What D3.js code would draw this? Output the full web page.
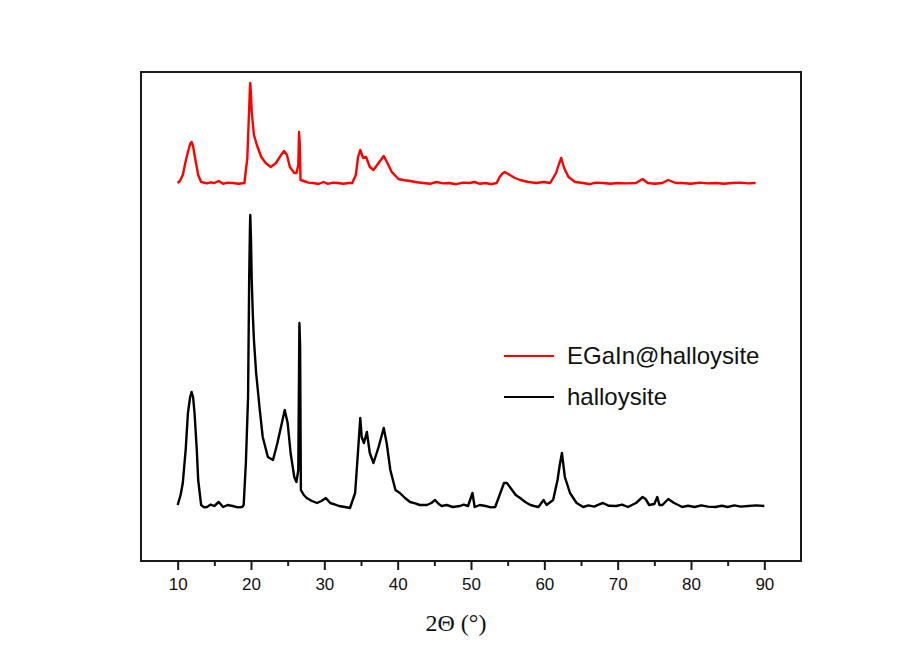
<!DOCTYPE html>
<html>
<head>
<meta charset="utf-8">
<script src="https://cdn.jsdelivr.net/npm/d3@7"></script>
<style>
  html, body { margin: 0; padding: 0; background: #ffffff; }
  svg { display: block; }
</style>
</head>
<body>
<svg id="chart" width="918" height="651"></svg>
<script>
// XRD patterns, intensity in arbitrary units
const twoThetaHalloysite = [
  10.0, 10.4, 10.7, 11.1, 11.4, 11.7, 11.9, 12.1, 12.3, 12.6, 12.8, 13.2, 13.6, 14.0, 14.5, 15.0, 15.6, 16.2, 16.8, 17.5, 18.2, 18.8, 19.0,
  19.3, 19.6, 19.75, 19.85, 19.9, 20.0, 20.1, 20.25, 20.4, 20.7, 21.2, 21.6, 22.3, 23.0, 23.6, 24.3, 24.6, 25.0, 25.4, 25.9, 26.2, 26.45,
  26.6, 26.7, 26.8, 27.2, 27.6, 28.3, 29.0, 29.6, 30.2, 30.8, 31.5, 32.0, 32.8, 33.5, 34.2, 34.7, 34.9, 35.1, 35.4, 35.8, 36.2, 36.7,
  37.4, 38.1, 38.5, 39.0, 39.7, 40.3, 41.0, 41.7, 42.4, 43.0, 44.0, 44.6, 45.1, 45.6, 46.0, 46.7, 47.5, 48.5, 49.0, 49.6, 50.2, 50.5,
  51.2, 52.0, 52.7, 53.3, 54.0, 54.5, 54.9, 55.6, 56.1, 56.7, 57.4, 58.1, 58.6, 59.2, 59.9, 60.3, 61.2, 61.8, 62.1, 62.4, 62.8, 63.5,
  64.4, 65.3, 66.0, 66.8, 67.4, 68.0, 68.8, 69.8, 70.6, 71.4, 72.5, 73.4, 73.8, 74.3, 75.0, 75.4, 75.7, 76.1, 76.9, 77.7, 78.8, 79.6,
  80.5, 81.4, 82.3, 83.3, 84.2, 85.0, 85.9, 86.8, 87.8, 88.9, 90.0
];
const intensityHalloysite = [
  280, 330, 390, 560, 740, 820, 845, 820, 740, 560, 405, 280, 268, 270, 282, 275, 295, 270, 280, 275, 268, 270, 280,
  490, 820, 1405, 1650, 1730, 1605, 1405, 1230, 1105, 940, 755, 620, 520, 505, 590, 705, 755, 690, 540, 420, 395, 455,
  1190, 1070, 355, 330, 315, 300, 290, 300, 315, 290, 282, 275, 270, 265, 340, 605, 715, 620, 590, 645, 540, 490,
  570, 665, 590, 455, 355, 340, 315, 295, 288, 280, 280, 290, 305, 285, 275, 280, 270, 275, 282, 275, 340, 270,
  280, 275, 268, 270, 340, 390, 390, 355, 330, 315, 295, 280, 275, 270, 305, 280, 305, 405, 480, 540, 420, 340,
  290, 270, 278, 272, 282, 290, 276, 275, 282, 270, 290, 320, 310, 280, 285, 320, 280, 280, 310, 290, 270, 276,
  270, 278, 272, 270, 276, 270, 278, 272, 275, 278, 275
];

const twoThetaEGaIn = [
  10.0, 10.3, 10.7, 11.1, 11.4, 11.7, 11.9, 12.1, 12.3, 12.6, 12.8, 13.2, 14.0, 14.5, 15.0, 15.6, 16.2, 16.8, 17.5, 18.3, 19.1,
  19.5, 19.7, 19.85, 19.9, 20.0, 20.1, 20.4, 20.8, 21.4, 22.0, 22.7, 23.4, 24.1, 24.5, 24.9, 25.3, 25.9, 26.2, 26.45, 26.55,
  26.65, 26.75, 27.2, 27.8, 28.5, 29.2, 29.9, 30.5, 31.2, 31.8, 32.6, 33.3, 33.8, 34.3, 34.6, 34.9, 35.3, 35.7, 36.2, 36.7,
  37.4, 38.1, 38.6, 39.2, 40.1, 40.9, 41.7, 42.6, 43.5, 44.4, 45.3, 46.2, 47.0, 48.0, 48.9, 49.8, 50.5, 51.2, 52.0, 52.8, 53.5,
  53.9, 54.3, 54.6, 55.3, 56.0, 56.7, 57.8, 58.9, 59.9, 60.8, 61.6, 62.0, 62.3, 62.7, 63.3, 64.2, 65.3, 66.2, 67.0, 68.0,
  69.0, 70.0, 71.2, 72.5, 73.4, 74.1, 75.1, 76.1, 76.9, 77.9, 78.8, 80.0, 81.2, 82.3, 83.4, 84.5, 85.6, 86.7, 87.8, 88.8
];
const intensityEGaIn = [
  290, 300, 330, 400, 445, 485, 495, 475, 430, 370, 330, 295, 288, 293, 290, 300, 286, 292, 290, 286, 290,
  415, 615, 760, 790, 730, 645, 530, 480, 420, 390, 370, 390, 430, 450, 430, 370, 340, 340, 380, 545,
  490, 305, 300, 292, 290, 285, 295, 286, 292, 290, 286, 290, 290, 330, 420, 455, 415, 420, 370, 355,
  390, 425, 390, 345, 310, 304, 300, 294, 290, 286, 295, 288, 290, 284, 292, 290, 295, 286, 290, 284, 290,
  320, 338, 345, 330, 315, 305, 295, 290, 295, 290, 340, 385, 415, 365, 320, 295, 290, 284, 292, 290,
  286, 290, 288, 290, 310, 290, 286, 290, 305, 290, 290, 286, 292, 288, 290, 286, 290, 292, 288, 290
];

// Vertical shift applied to the upper pattern so the two traces are stacked
const stackOffset = 1600;

const xTicks = [10, 20, 30, 40, 50, 60, 70, 80, 90];
const xMinorTicks = [15, 25, 35, 45, 55, 65, 75, 85];

const seriesNames = ["EGaIn@halloysite", "halloysite"];
const seriesColors = ["#ff0000", "#000000"];

const svg = d3.select("#chart");

const plot = { left: 141, right: 801, top: 72, bottom: 561 };

const x = d3.scaleLinear().domain([5, 95]).range([plot.left, plot.right]);
const y = d3.scaleLinear().domain([0, 2445]).range([plot.bottom, plot.top]);

// Traces
const line = d3.line()
  .x(d => x(d[0]))
  .y(d => y(d[1]));

const black = twoThetaHalloysite.map((t, i) => [t, intensityHalloysite[i]]);
const red = twoThetaEGaIn.map((t, i) => [t, intensityEGaIn[i] + stackOffset]);

svg.append("path")
  .datum(black)
  .attr("d", line)
  .attr("fill", "none")
  .attr("stroke", seriesColors[1])
  .attr("stroke-width", 2.4)
  .attr("stroke-linejoin", "round");

svg.append("path")
  .datum(red)
  .attr("d", line)
  .attr("fill", "none")
  .attr("stroke", seriesColors[0])
  .attr("stroke-width", 2.4)
  .attr("stroke-linejoin", "round");

// Frame around the plotting area
svg.append("rect")
  .attr("x", plot.left)
  .attr("y", plot.top)
  .attr("width", plot.right - plot.left)
  .attr("height", plot.bottom - plot.top)
  .attr("fill", "none")
  .attr("stroke", "#1a1a1a")
  .attr("stroke-width", 2);

// Bottom axis: major ticks with labels, minor ticks without
const xAxis = d3.axisBottom(x)
  .tickValues(xTicks)
  .tickSize(9)
  .tickPadding(8)
  .tickFormat(d3.format("d"));

const gx = svg.append("g")
  .attr("transform", `translate(0,${plot.bottom})`)
  .call(xAxis);
gx.select(".domain").remove();
gx.selectAll(".tick line").attr("stroke", "#1a1a1a").attr("stroke-width", 2);
gx.selectAll(".tick text")
  .attr("fill", "#111")
  .style("font-family", "'Liberation Sans', Arial, sans-serif")
  .style("font-size", "17px");

const xAxisMinor = d3.axisBottom(x)
  .tickValues(xMinorTicks)
  .tickSize(5)
  .tickFormat("");
const gxm = svg.append("g")
  .attr("transform", `translate(0,${plot.bottom})`)
  .call(xAxisMinor);
gxm.select(".domain").remove();
gxm.selectAll(".tick line").attr("stroke", "#1a1a1a").attr("stroke-width", 2);

// Axis title
svg.append("text")
  .attr("x", 456)
  .attr("y", 631)
  .attr("text-anchor", "middle")
  .style("font-family", "'Liberation Serif', 'Times New Roman', serif")
  .style("font-size", "24px")
  .attr("fill", "#111")
  .text("2Θ (°)");

// Legend
const legend = svg.append("g");
const legendRows = [356, 397];
seriesNames.forEach((name, i) => {
  legend.append("line")
    .attr("x1", 504).attr("x2", 554)
    .attr("y1", legendRows[i]).attr("y2", legendRows[i])
    .attr("stroke", seriesColors[i])
    .attr("stroke-width", 2);
  legend.append("text")
    .attr("x", 567)
    .attr("y", legendRows[i] + 8)
    .style("font-family", "'Liberation Sans', Arial, sans-serif")
    .style("font-size", "24px")
    .attr("fill", "#111")
    .text(name);
});
</script>
</body>
</html>
